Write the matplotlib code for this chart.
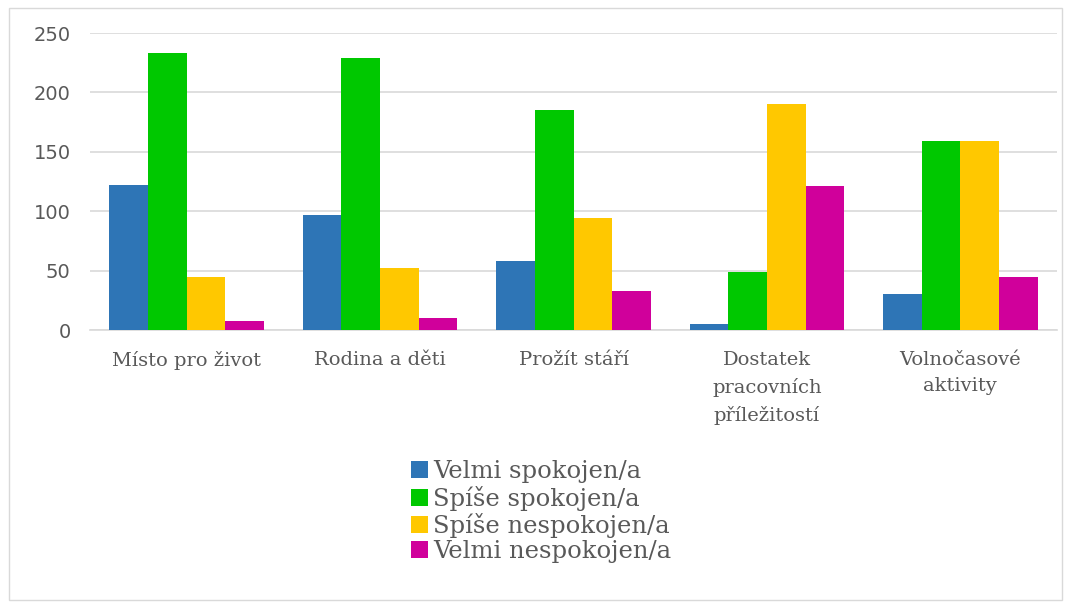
import matplotlib.pyplot as plt
import numpy as np
from matplotlib.patches import Rectangle

categories = ['Místo pro život', 'Rodina a děti', 'Prožít stáří',
              'Dostatek\npracovních\npříležitostí', 'Volnočasové\naktivity']
series_names = ['Velmi spokojen/a', 'Spíše spokojen/a',
                'Spíše nespokojen/a', 'Velmi nespokojen/a']
velmi_spokojen = [122, 97, 58, 5, 30]
spise_spokojen = [233, 229, 185, 49, 159]
spise_nespokojen = [45, 52, 94, 190, 159]
velmi_nespokojen = [8, 10, 33, 121, 45]
colors = ['#2E75B6', '#00C800', '#FFC800', '#D0009B']

fig = plt.figure(figsize=(10.71, 6.07), dpi=100)
fig.patches.append(Rectangle((0.008, 0.012), 0.984, 0.975, transform=fig.transFigure,
                             fill=False, edgecolor='#D9D9D9', linewidth=1))
ax = fig.add_axes([0.084, 0.4563, 0.903, 0.4893])

x = np.arange(len(categories))
width = 0.2
all_series = [velmi_spokojen, spise_spokojen, spise_nespokojen, velmi_nespokojen]
for i, (vals, name, c) in enumerate(zip(all_series, series_names, colors)):
    ax.bar(x + (i - 1.5) * width, vals, width, color=c, label=name, zorder=3)

ax.set_xlim(-0.5, len(categories) - 0.5)
ax.set_ylim(0, 250)
ax.set_yticks(range(0, 251, 50))
ax.yaxis.grid(True, color='#D9D9D9', linewidth=1.2, zorder=0)
for s in ['top', 'right', 'left']:
    ax.spines[s].set_visible(False)
ax.spines['bottom'].set_color('#D9D9D9')
ax.spines['bottom'].set_linewidth(1.2)
ax.tick_params(axis='both', length=0, colors='#595959')
ax.tick_params(axis='y', labelsize=14, pad=14)
ax.set_xticks(x)
ax.set_xticklabels(categories, family='DejaVu Serif', fontsize=14, color='#595959',
                   linespacing=1.6)
ax.tick_params(axis='x', pad=15)

fig.legend(loc='upper left', bbox_to_anchor=(0.375, 0.258), frameon=False,
           prop={'family': 'DejaVu Serif', 'size': 17.5}, labelcolor='#595959',
           handlelength=0.7, handleheight=0.7, handletextpad=0.2, labelspacing=0.1,
           borderaxespad=0)

plt.savefig('out.png', dpi=100)
plt.close()
